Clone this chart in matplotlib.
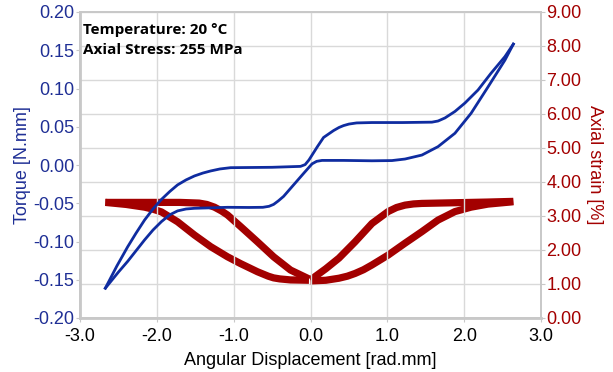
import matplotlib
matplotlib.use("Agg")
import matplotlib.pyplot as plt
from matplotlib.ticker import FormatStrFormatter

plt.rcParams["font.family"] = ["Liberation Sans", "DejaVu Sans"]
plt.rcParams["axes.unicode_minus"] = False

# --- torque (left axis) --------------------------------------------------------
# loading branch: bottom-left -> through origin -> lower right plateau -> top right
tq_load_x = [-2.67, -2.50, -2.38, -2.16, -2.05, -1.94, -1.83, -1.73, -1.62, -1.51, -1.30, -1.08,
             -0.80, -0.62, -0.54, -0.48, -0.42, -0.35, -0.22, -0.09, 0.02, 0.08, 0.15, 0.43,
             0.80, 1.06, 1.23, 1.45, 1.66, 1.88, 2.09, 2.31, 2.53, 2.64]
tq_load_y = [-0.161, -0.140, -0.126, -0.098, -0.085, -0.074, -0.065, -0.060, -0.0575, -0.0566, -0.056, -0.0553,
             -0.0555, -0.0553, -0.0540, -0.0515, -0.047, -0.041, -0.026, -0.011, 0.0015, 0.0048, 0.0060, 0.006,
             0.0055, 0.0058, 0.0078, 0.013, 0.024, 0.0415, 0.0676, 0.102, 0.137, 0.158]
# unloading branch: top right -> upper plateau -> through origin -> upper-left plateau -> bottom-left
tq_unl_x = [2.64, 2.53, 2.35, 2.18, 2.01, 1.88, 1.75, 1.66, 1.58, 1.20, 0.80, 0.60, 0.50, 0.43, 0.37,
            0.30, 0.17, 0.09, -0.02, -0.07, -0.13, -0.50, -1.04, -1.18, -1.30, -1.40, -1.51, -1.62,
            -1.73, -1.83, -1.94, -2.05, -2.16, -2.27, -2.38, -2.52, -2.67]
tq_unl_y = [0.158, 0.1416, 0.120, 0.098, 0.081, 0.070, 0.0615, 0.0575, 0.0560, 0.0555, 0.0555, 0.0550, 0.0535,
            0.0515, 0.049, 0.045, 0.036, 0.024, 0.0066, 0.0005, -0.0018, -0.003, -0.0035, -0.0052, -0.0078,
            -0.0105, -0.0143, -0.0195, -0.026, -0.0345, -0.045, -0.0575, -0.072, -0.089, -0.107, -0.132, -0.161]

# --- axial strain (right axis) --------------------------------------------------
st_a_x = [-2.67, -2.16, -1.70, -1.45, -1.35, -1.25, -1.16, -1.08, -0.91, -0.69, -0.48, -0.26, -0.02]
st_a_y = [3.40, 3.40, 3.40, 3.38, 3.34, 3.26, 3.15, 3.03, 2.69, 2.24, 1.80, 1.41, 1.15]
st_b_x = [-2.67, -2.40, -2.16, -2.05, -1.94, -1.73, -1.51, -1.30, -1.08, -0.91, -0.69, -0.55,
          -0.48, -0.40, -0.26, -0.02]
st_b_y = [3.40, 3.34, 3.26, 3.20, 3.12, 2.83, 2.44, 2.10, 1.80, 1.60, 1.36, 1.23,
          1.18, 1.15, 1.12, 1.11]
st_c_x = [0.00, 0.20, 0.37, 0.58, 0.80, 1.01, 1.12, 1.23, 1.34, 1.45, 1.88, 2.30, 2.64]
st_c_y = [1.12, 1.45, 1.76, 2.24, 2.78, 3.13, 3.25, 3.32, 3.355, 3.37, 3.39, 3.41, 3.43]
st_d_x = [0.00, 0.20, 0.37, 0.48, 0.58, 0.69, 0.80, 1.01, 1.23, 1.45, 1.66, 1.88, 2.09, 2.31,
          2.50, 2.64]
st_d_y = [1.09, 1.11, 1.17, 1.23, 1.31, 1.42, 1.56, 1.85, 2.20, 2.54, 2.88, 3.13, 3.26, 3.35,
          3.39, 3.42]

BLUE = "#0f2ca0"
BLUE_TXT = "#1f2f95"
RED = "#a30000"
GRID = "#d9d9d9"

fig = plt.figure(figsize=(6.13, 3.72), dpi=100)
ax = fig.add_axes([80 / 613, 1 - 318 / 372, 461 / 613, 306 / 372])
ax2 = ax.twinx()

ax.set_xlim(-3, 3)
ax.set_ylim(-0.20, 0.20)
ax2.set_ylim(0, 9)
ax.set_xticks([-3, -2, -1, 0, 1, 2, 3])
ax.set_yticks([-0.20, -0.15, -0.10, -0.05, 0.00, 0.05, 0.10, 0.15, 0.20])
ax2.set_yticks(range(10))
ax.xaxis.set_major_formatter(FormatStrFormatter("%.1f"))
ax.yaxis.set_major_formatter(FormatStrFormatter("%.2f"))
ax2.yaxis.set_major_formatter(FormatStrFormatter("%.2f"))

# grid: vertical from x axis, horizontal from the strain axis
ax.grid(axis="x", color=GRID, lw=1)
ax2.grid(axis="y", color=GRID, lw=1)
ax.set_axisbelow(True)
ax2.set_axisbelow(True)

for a in (ax, ax2):
    for s in a.spines.values():
        s.set_color("#c8c8c8")
        s.set_linewidth(1.2)
ax.spines["left"].set_linewidth(2)
ax.spines["bottom"].set_linewidth(2)

for xs, ys in [(st_a_x, st_a_y), (st_b_x, st_b_y), (st_c_x, st_c_y), (st_d_x, st_d_y)]:
    ax2.plot(xs, ys, color=RED, lw=5.2, solid_capstyle="butt", solid_joinstyle="round")

ax.set_zorder(ax2.get_zorder() + 1)
ax.patch.set_visible(False)
ax.plot(tq_load_x, tq_load_y, color=BLUE, lw=2.0, solid_joinstyle="round")
ax.plot(tq_unl_x, tq_unl_y, color=BLUE, lw=2.0, solid_joinstyle="round")

ax.tick_params(axis="x", colors="#c8c8c8", labelcolor="black", labelsize=13, length=3, pad=4.5)
ax.tick_params(axis="y", colors="#c8c8c8", labelcolor=BLUE_TXT, labelsize=13, length=3, pad=1)
ax2.tick_params(axis="y", colors="#c8c8c8", labelcolor=RED, labelsize=13, length=3, pad=1)

ax.set_xlabel("Angular Displacement [rad.mm]", fontsize=13, labelpad=5)
ax.set_ylabel("Torque [N.mm]", fontsize=13, color=BLUE_TXT, labelpad=2)
ax2.set_ylabel("Axial strain [%]", fontsize=13, color=RED, rotation=270, labelpad=15)

ax.text(0.006, 0.965, "Temperature: 20 °C\nAxial Stress: 255 MPa", transform=ax.transAxes,
        ha="left", va="top", fontsize=11, fontweight="bold", family=["Open Sans", "DejaVu Sans"],
        linespacing=1.6)

fig.savefig("out.png", dpi=100)
